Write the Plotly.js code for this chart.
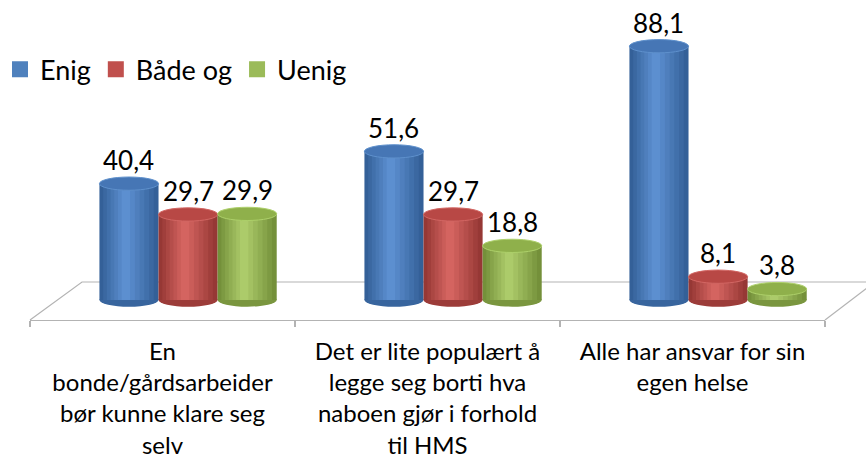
<!DOCTYPE html>
<html>
<head>
<meta charset="utf-8">
<script src="https://cdn.plot.ly/plotly-3.0.1.min.js"></script>
<style>html,body{margin:0;padding:0;background:#fff;}#chart{width:866px;height:459px;}</style>
</head>
<body>
<div id="chart"></div>
<script>
// ---- data ----
const categories = ['cat1', 'cat2', 'cat3'];
const tickLabels = [
  'En<br>bonde/gårdsarbeider<br>bør kunne klare seg<br>selv',
  'Det er lite populært å<br>legge seg borti hva<br>naboen gjør i forhold<br>til HMS',
  'Alle har ansvar for sin<br>egen helse'
];
const seriesNames = ['Enig', 'Både og', 'Uenig'];
const enig   = [40.4, 51.6, 88.1];
const badeOg = [29.7, 29.7, 8.1];
const uenig  = [29.9, 18.8, 3.8];
const seriesValues = [enig, badeOg, uenig];

// ---- styles ----
const palettes = [
  {legend:'#4f81bd', edge:[52,96,152],  light:[92,143,208], cap:'#4676b5', capLine:'#5e90cc'},
  {legend:'#c0504d', edge:[150,56,53],  light:[212,100,96], cap:'#b84845', capLine:'#d26663'},
  {legend:'#9bbb59', edge:[116,144,58], light:[172,203,106], cap:'#8fb04b', capLine:'#add06a'}
];
const offsets = [-0.238, -0.015, 0.208];
const barW = 0.223;
const nLayers = 7;
const capH = 2.3;           // half-height of ellipse caps, in value units
const fontFam = 'Lato, "Open Sans", sans-serif';

function mix(a, b, t) {
  return 'rgb(' + a.map((c, i) => Math.round(c + (b[i] - c) * t)).join(',') + ')';
}

const traces = [];
const shapes = [];
const annotations = [];

// floor (decoration, paper coordinates)
const floorColor = '#b3b3b3';
shapes.push({type:'path', xref:'paper', yref:'paper', layer:'below',
  path:'M0,0 L0.0654,0.1267 L1.2,0.1267', line:{color:floorColor, width:1.2}});
shapes.push({type:'path', xref:'paper', yref:'paper', layer:'below',
  path:'M1,0 L1.0629,0.1267', line:{color:floorColor, width:1.2}});

seriesValues.forEach((vals, s) => {
  const p = palettes[s];
  for (let k = 0; k < nLayers; k++) {
    const f = 1 - k / nLayers;
    const w = barW * f;
    const off = offsets[s] + (barW - w) / 2 - barW * 0.06 * (k / nLayers);
    traces.push({
      type:'bar', x:categories, y:vals, offset:off, width:w,
      marker:{color: mix(p.edge, p.light, k / (nLayers - 1)), line:{width:0}},
      showlegend:false, hoverinfo:'skip'
    });
  }
  vals.forEach((v, i) => {
    const x0 = i + offsets[s], x1 = x0 + barW;
    shapes.push({type:'circle', xref:'x', yref:'y', layer:'below',
      x0:x0, x1:x1, y0:-capH, y1:capH, fillcolor:mix(p.edge, p.light, 0.1), line:{width:0}});
    shapes.push({type:'circle', xref:'x', yref:'y', layer:'above',
      x0:x0, x1:x1, y0:v - capH, y1:v + capH, fillcolor:p.cap, line:{color:p.capLine, width:1}});
    annotations.push({xref:'x', yref:'y', x:(x0 + x1) / 2, y:v + capH, yanchor:'bottom',
      xanchor:'center', yshift:-1, showarrow:false,
      text:String(v).replace('.', ','), font:{family:fontFam, size:26, color:'#000'}});
  });
  traces.push({type:'scatter', mode:'markers', x:[null], y:[null], name:seriesNames[s],
    marker:{symbol:'square', size:16, color:p.legend}, hoverinfo:'skip'});
});

const layout = {
  width:866, height:459,
  margin:{l:30, r:41, t:20, b:139, autoexpand:false},
  paper_bgcolor:'#fff', plot_bgcolor:'rgba(0,0,0,0)',
  barmode:'overlay',
  showlegend:true,
  legend:{orientation:'h', xref:'container', yref:'container', x:-0.005, y:0.848,
    xanchor:'left', yanchor:'middle', font:{family:fontFam, size:27, color:'#000'},
    itemwidth:30, tracegroupgap:0, bgcolor:'rgba(0,0,0,0)'},
  xaxis:{type:'category', categoryorder:'array', categoryarray:categories,
    tickvals:categories, ticktext:tickLabels, range:[-0.5, 2.5], automargin:false,
    showline:true, linecolor:floorColor, linewidth:1.2,
    ticks:'outside', tickson:'boundaries', ticklen:6, tickcolor:floorColor, tickwidth:1.2,
    ticklabelstandoff:10,
    showgrid:false, zeroline:false, fixedrange:true,
    tickfont:{family:fontFam, size:24, color:'#000'}},
  yaxis:{range:[-6.94, 97.2], visible:false, fixedrange:true, automargin:false},
  shapes:shapes,
  annotations:annotations,
  font:{family:fontFam}
};

Plotly.newPlot('chart', traces, layout, {displayModeBar:false, staticPlot:true});
</script>
</body>
</html>
